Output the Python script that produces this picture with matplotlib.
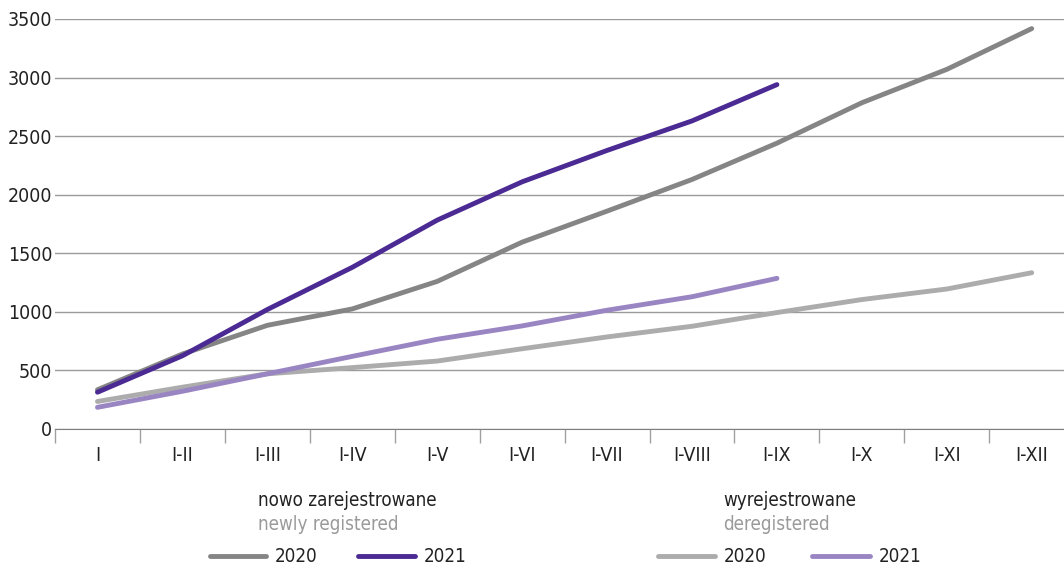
import numpy as np
import matplotlib
matplotlib.use("Agg")
import matplotlib.pyplot as plt
from matplotlib.lines import Line2D

plt.rcParams['font.family'] = ['DejaVu Sans']
plt.rcParams['font.stretch'] = 'condensed'

months = ['I', 'I-II', 'I-III', 'I-IV', 'I-V', 'I-VI', 'I-VII', 'I-VIII', 'I-IX', 'I-X', 'I-XI', 'I-XII']

new_2020 = [335, 640, 885, 1025, 1260, 1595, 1860, 2130, 2440, 2785, 3070, 3418]
new_2021 = [314, 625, 1020, 1380, 1783, 2110, 2378, 2630, 2940]
dereg_2020 = [235, 357, 471, 524, 580, 685, 786, 877, 994, 1105, 1195, 1334]
dereg_2021 = [185, 322, 471, 620, 766, 880, 1014, 1129, 1286]

c_new20 = '#858585'
c_new21 = '#4b2a93'
c_der20 = '#acacad'
c_der21 = '#9a85c3'

W, H = 1064, 568
fig = plt.figure(figsize=(W / 100, H / 100), dpi=100)
ax = fig.add_axes([55 / W, (H - 429) / H, 1009 / W, 410 / H])

lw = 3.5
ax.plot(range(len(dereg_2020)), dereg_2020, color=c_der20, lw=lw, solid_capstyle='round', zorder=3)
ax.plot(range(len(dereg_2021)), dereg_2021, color=c_der21, lw=lw, solid_capstyle='round', zorder=4)
ax.plot(range(len(new_2020)), new_2020, color=c_new20, lw=lw, solid_capstyle='round', zorder=5)
ax.plot(range(len(new_2021)), new_2021, color=c_new21, lw=lw, solid_capstyle='round', zorder=6)

ax.set_xlim(-0.5, 11.38)
ax.set_ylim(0, 3500)
ax.set_yticks(np.arange(0, 3501, 500))
ax.yaxis.grid(True, color='#9a9a9a', lw=1)
ax.set_axisbelow(True)
for s in ['left', 'right', 'top']:
    ax.spines[s].set_visible(False)
ax.spines['bottom'].set_color('#808080')
ax.tick_params(axis='y', length=0, pad=2, labelsize=14, labelcolor='#222222')

ax.set_xticks(np.arange(-0.5, 11, 1))
ax.set_xticklabels([])
ax.set_xticks(np.arange(len(months)), minor=True)
ax.set_xticklabels(months, minor=True)
ax.tick_params(axis='x', which='major', length=10, color='#a0a0a0', width=1)
ax.tick_params(axis='x', which='minor', length=0, pad=12, labelsize=14, labelcolor='#222222')

def fx(px):
    return px / W

def fy(py):
    return 1 - py / H

# legend block
fig.text(fx(258), fy(500), 'nowo zarejestrowane', fontsize=13.5, color='#222222', va='center')
fig.text(fx(258), fy(525), 'newly registered', fontsize=13.5, color='#9a9a9a', va='center')
fig.text(fx(723), fy(500), 'wyrejestrowane', fontsize=13.5, color='#222222', va='center')
fig.text(fx(723), fy(525), 'deregistered', fontsize=13.5, color='#9a9a9a', va='center')

for x0, x1, col, lab in [(210, 266, c_new20, '2020'), (358, 415, c_new21, '2021'),
                         (658, 715, c_der20, '2020'), (812, 870, c_der21, '2021')]:
    fig.add_artist(Line2D([fx(x0), fx(x1)], [fy(556), fy(556)], color=col, lw=lw,
                          solid_capstyle='round', transform=fig.transFigure))
    fig.text(fx(x1 + 9), fy(556), lab, fontsize=13.5, color='#222222', va='center')

fig.savefig('out.png', dpi=100)
